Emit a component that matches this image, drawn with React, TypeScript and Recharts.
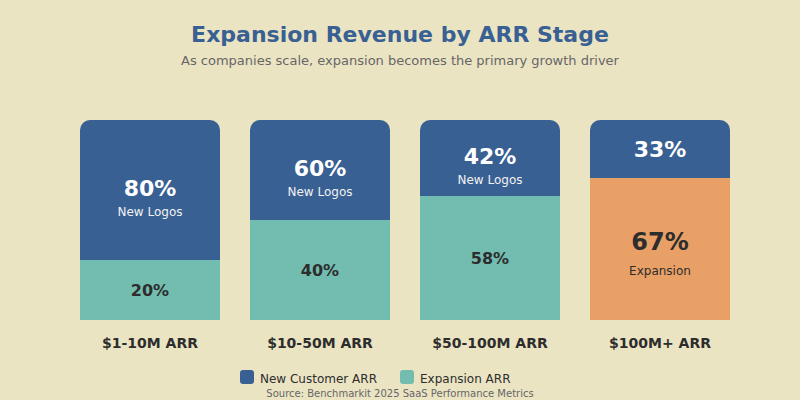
import { BarChart, Bar, XAxis, YAxis, Cell, LabelList } from 'recharts';

const BG = '#EBE4C3';
const BLUE = '#386092';
const TEAL = '#72BDB0';
const ORANGE = '#E8A067';
const DARK = '#2D2D2D';
const FONT = '"DejaVu Sans", sans-serif';

const stages = ['$1-10M ARR', '$10-50M ARR', '$50-100M ARR', '$100M+ ARR'];
// shares printed on the bars
const newLogoPct = [80, 60, 42, 33];
const expansionPct = [20, 40, 58, 67];
// segment heights as drawn in the reference (out of 100)
const newLogoHeight = [70, 50, 38, 29];
const expansionHeight = [30, 50, 62, 71];
const subLabels = ['New Logos', 'New Logos', 'New Logos', ''];
const expansionSub = ['', '', '', 'Expansion'];

const data = stages.map((stage, i) => ({
  stage,
  newLogos: newLogoHeight[i],
  expansion: expansionHeight[i],
}));

const NewLogoLabel = (props: any) => {
  const { x, y, width, height, index } = props;
  const cx = x + width / 2;
  const mid = y + height / 2;
  const sub = subLabels[index];
  if (!sub) {
    return (
      <text x={cx} y={mid + 8} textAnchor="middle" fill="#fff" fontSize={22} fontWeight="bold" fontFamily={FONT}>
        {newLogoPct[index]}%
      </text>
    );
  }
  return (
    <g>
      <text x={cx} y={mid + 6} textAnchor="middle" fill="#fff" fontSize={22} fontWeight="bold" fontFamily={FONT}>
        {newLogoPct[index]}%
      </text>
      <text x={cx} y={mid + 26} textAnchor="middle" fill="#F2F2F2" fontSize={12} fontFamily={FONT}>
        {sub}
      </text>
    </g>
  );
};

const ExpansionLabel = (props: any) => {
  const { x, y, width, height, index } = props;
  const cx = x + width / 2;
  const mid = y + height / 2;
  const sub = expansionSub[index];
  if (!sub) {
    return (
      <text x={cx} y={mid + 6} textAnchor="middle" fill={DARK} fontSize={16} fontWeight="bold" fontFamily={FONT}>
        {expansionPct[index]}%
      </text>
    );
  }
  return (
    <g>
      <text x={cx} y={mid + 1} textAnchor="middle" fill={DARK} fontSize={24} fontWeight="bold" fontFamily={FONT}>
        {expansionPct[index]}%
      </text>
      <text x={cx} y={mid + 26} textAnchor="middle" fill={DARK} fontSize={12} fontFamily={FONT}>
        {sub}
      </text>
    </g>
  );
};

const StageTick = (props: any) => {
  const { x, y, payload } = props;
  return (
    <text x={x} y={y + 20} textAnchor="middle" fill={DARK} fontSize={14} fontWeight="bold" fontFamily={FONT}>
      {payload.value}
    </text>
  );
};

export default function App() {
  return (
    <div style={{ position: 'absolute', left: 0, top: 0, width: 800, height: 400, background: BG, fontFamily: FONT }}>
      <BarChart width={800} height={400} data={data} margin={{ top: 120, right: 55, bottom: 50, left: 65 }}>
        <YAxis hide domain={[0, 100]} />
        <XAxis dataKey="stage" axisLine={false} tickLine={false} height={30} tick={<StageTick />} interval={0} />
        <Bar dataKey="expansion" stackId="a" barSize={140} isAnimationActive={false}>
          {data.map((_, i) => (
            <Cell key={i} fill={i === 3 ? ORANGE : TEAL} />
          ))}
          <LabelList dataKey="expansion" content={<ExpansionLabel />} />
        </Bar>
        <Bar dataKey="newLogos" stackId="a" barSize={140} fill={BLUE} radius={[10, 10, 0, 0]} isAnimationActive={false}>
          <LabelList dataKey="newLogos" content={<NewLogoLabel />} />
        </Bar>
      </BarChart>
      <svg width={800} height={400} style={{ position: 'absolute', left: 0, top: 0, pointerEvents: 'none' }}>
        <text x={400} y={42} textAnchor="middle" fill={BLUE} fontSize={22} fontWeight="bold" fontFamily={FONT}>
          Expansion Revenue by ARR Stage
        </text>
        <text x={400} y={65} textAnchor="middle" fill="#666" fontSize={13} fontFamily={FONT}>
          As companies scale, expansion becomes the primary growth driver
        </text>
        <rect x={240} y={370} width={14} height={14} rx={3} fill={BLUE} />
        <text x={260} y={383} fill={DARK} fontSize={12} fontFamily={FONT}>New Customer ARR</text>
        <rect x={400} y={370} width={14} height={14} rx={3} fill={TEAL} />
        <text x={420} y={383} fill={DARK} fontSize={12} fontFamily={FONT}>Expansion ARR</text>
        <text x={400} y={397} textAnchor="middle" fill="#666" fontSize={10} fontFamily={FONT}>
          Source: Benchmarkit 2025 SaaS Performance Metrics
        </text>
      </svg>
    </div>
  );
}
